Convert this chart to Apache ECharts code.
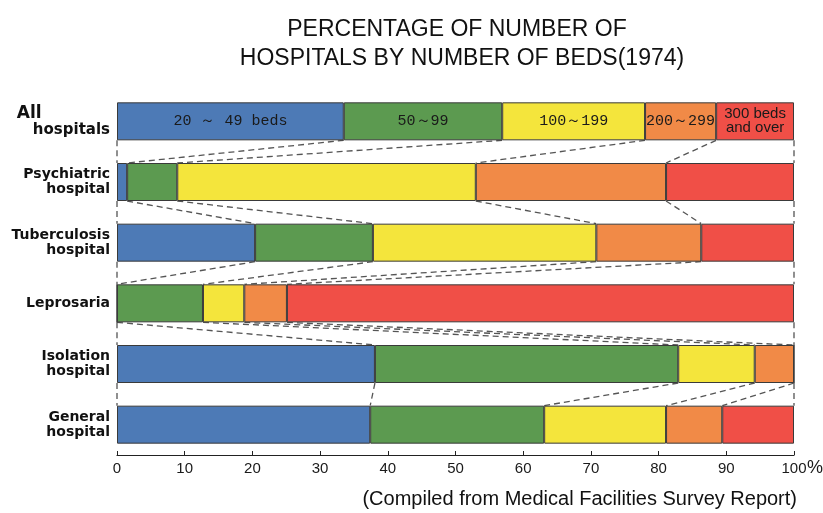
<!DOCTYPE html>
<html>
<head>
<meta charset="utf-8">
<script src="https://cdn.jsdelivr.net/npm/echarts@6/dist/echarts.min.js"></script>
<style>
  html, body { margin: 0; padding: 0; background: #fff; }
  #chart { width: 823px; height: 513px; }
</style>
</head>
<body>
<div id="chart"></div>
<script>
// hospital types, top to bottom
var categories = ['All\nhospitals', 'Psychiatric\nhospital', 'Tuberculosis\nhospital', 'Leprosaria', 'Isolation\nhospital', 'General\nhospital']

// share of hospitals (%) in each bed-size class
var beds20to49 = [33.5, 1.5, 20.4, 0, 38.1, 37.4]
var beds50to99 = [23.4, 7.4, 17.4, 12.7, 44.8, 25.7]
var beds100to199 = [21.1, 44.1, 33.0, 6.1, 11.3, 18.0]
var beds200to299 = [10.5, 28.1, 15.5, 6.3, 5.8, 8.3]
var beds300plus = [11.5, 18.9, 13.7, 74.9, 0, 10.6]

var segmentNames = ['20 ～ 49 beds', '50～99', '100～199', '200～299', '300 beds\nand over']
var segmentColors = ['#4d7ab6', '#5c9a50', '#f4e53c', '#f18a47', '#f04f47']
var xTicks = [0, 10, 20, 30, 40, 50, 60, 70, 80, 90, 100]

var groups = [beds20to49, beds50to99, beds100to199, beds200to299, beds300plus]
var barWidth = 38

// running boundaries per hospital type, used for the dashed connectors
var bounds = categories.map(function (c, i) {
    var acc = 0
    var b = [0]
    groups.forEach(function (g) { acc += g[i]; b.push(acc) })
    return b
})

var series = groups.map(function (g, j) {
    return {
        name: segmentNames[j],
        type: 'bar',
        stack: 'total',
        barWidth: barWidth,
        itemStyle: { color: segmentColors[j], borderColor: '#3a3a3a', borderWidth: 1 },
        data: g.map(function (v, i) {
            if (i !== 0) return v
            return {
                value: v,
                label: j === 4 ? {
                    show: true, formatter: segmentNames[j], color: '#1a1a1a',
                    fontFamily: 'Liberation Sans', fontSize: 15, lineHeight: 14, align: 'center'
                } : {
                    show: true, formatter: segmentNames[j], color: '#1a1a1a',
                    fontFamily: 'Liberation Mono', fontSize: 15
                }
            }
        })
    }
})

series.push({
    type: 'custom',
    silent: true,
    z: 1,
    data: [0, 1, 2, 3, 4].map(function (i) { return [0, i] }),
    encode: { x: 0, y: 1 },
    renderItem: function (params, api) {
        var i = params.dataIndex
        var half = barWidth / 2
        var kids = []
        for (var k = 0; k < bounds[i].length; k++) {
            var p1 = api.coord([bounds[i][k], i])
            var p2 = api.coord([bounds[i + 1][k], i + 1])
            kids.push({
                type: 'line',
                shape: { x1: p1[0], y1: p1[1] + half, x2: p2[0], y2: p2[1] - half },
                style: { stroke: '#555', lineWidth: 1.3, lineDash: [6, 4] }
            })
        }
        return { type: 'group', children: kids }
    }
})

var option = {
    animation: false,
    backgroundColor: '#fff',
    grid: { left: 117, right: 29, top: 91, bottom: 58 },
    xAxis: {
        type: 'value',
        min: 0,
        max: 100,
        interval: 10,
        splitLine: { show: false },
        axisLine: { show: true, lineStyle: { color: '#222', width: 1.2 } },
        axisTick: { show: true, inside: true, length: 4, lineStyle: { color: '#222' } },
        axisLabel: {
            color: '#1a1a1a', fontFamily: 'Liberation Sans', fontSize: 15, margin: 6,
            formatter: function (v) { return xTicks.indexOf(v) >= 0 ? String(v) : '' }
        }
    },
    yAxis: {
        type: 'category',
        inverse: true,
        data: categories,
        axisLine: { show: false },
        axisTick: { show: false },
        axisLabel: {
            margin: 7,
            color: '#111',
            fontFamily: 'DejaVu Sans',
            fontWeight: 'bold',
            fontSize: 14,
            lineHeight: 15,
            formatter: function (v, i) {
                if (i === 0) return '{a|All}\n{b|hospitals}'
                return v
            },
            rich: {
                a: { fontFamily: 'DejaVu Sans', fontWeight: 'bold', fontSize: 17, align: 'left', lineHeight: 17 },
                b: { fontFamily: 'DejaVu Sans', fontWeight: 'bold', fontSize: 15, align: 'right', lineHeight: 16, padding: [0, 0, 0, 16] }
            }
        }
    },
    graphic: [
        {
            type: 'text', x: 457, y: 18,
            style: { text: 'PERCENTAGE OF NUMBER OF', textAlign: 'center', fill: '#111', font: '23px "Liberation Sans"' }
        },
        {
            type: 'text', x: 462, y: 47,
            style: { text: 'HOSPITALS BY NUMBER OF BEDS(1974)', textAlign: 'center', fill: '#111', font: '23px "Liberation Sans"' }
        },
        {
            type: 'text', x: 807, y: 459,
            style: { text: '%', fill: '#1a1a1a', font: '18px "Liberation Sans"' }
        },
        {
            type: 'text', x: 797, y: 489,
            style: { text: '(Compiled from Medical Facilities Survey Report)', textAlign: 'right', fill: '#111', font: '20px "Liberation Sans"' }
        }
    ],
    series: series
}

var myChart = echarts.init(document.getElementById('chart'))
myChart.setOption(option)
</script>
</body>
</html>
